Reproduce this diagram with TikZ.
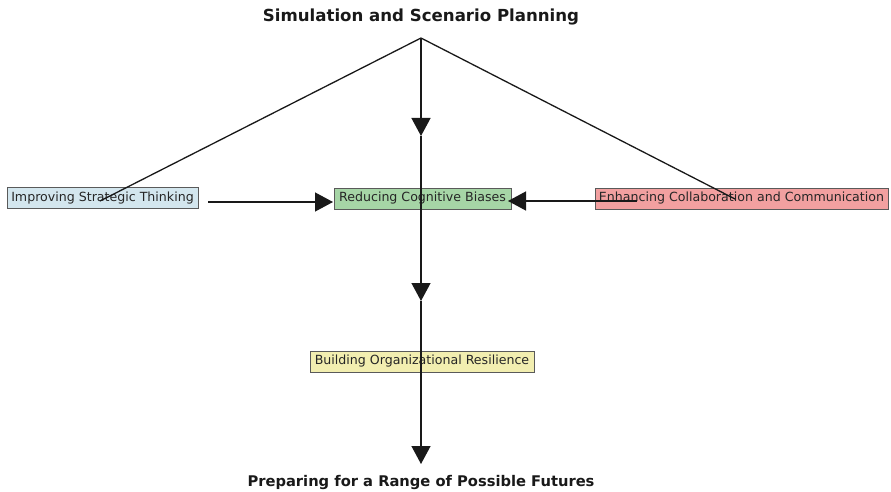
\documentclass[tikz,border=0pt]{standalone}
\usepackage{fontspec}
\setmainfont{DejaVu Sans}
\usetikzlibrary{arrows.meta}
\definecolor{cblue}{HTML}{D3E6EE}
\definecolor{cgreen}{HTML}{A6D5A6}
\definecolor{cred}{HTML}{F2A0A0}
\definecolor{cyellow}{HTML}{F2EEB0}
\definecolor{cborder}{HTML}{5A5A5A}
\tikzset{
  box/.style={draw=cborder, line width=0.8pt, inner sep=0pt, minimum height=21pt,
    font=\fontsize{12.6}{14}\selectfont, text=black!85},
  heading/.style={font=\bfseries, text=black!90},
  conn/.style={line width=1.3pt, black!90},
  arr/.style={conn, -{Triangle[length=18pt,width=19pt]}},
}
\begin{document}
\begin{tikzpicture}[x=1pt,y=-1pt]
\useasboundingbox (0,0) rectangle (891,492);
% boxes
\node[box, fill=cblue, minimum width=191pt] (ist) at (102.5,198) {Improving Strategic Thinking};
\node[box, fill=cgreen, minimum width=177pt] (rcb) at (422.5,198.5) {Reducing Cognitive Biases};
\node[box, fill=cred, minimum width=293pt] (ecc) at (741.5,198.5) {Enhancing Collaboration and Communication};
\node[box, fill=cyellow, minimum width=224pt] (bor) at (422,361.5) {Building Organizational Resilience};
% headings
\node[heading, font=\fontsize{16.6}{19}\selectfont\bfseries] (sim) at (421,17) {Simulation and Scenario Planning};
\node[heading, font=\fontsize{14.7}{17}\selectfont\bfseries] (pre) at (421,482) {Preparing for a Range of Possible Futures};
% coordinates
\coordinate (apex) at (421,38);
\coordinate (lend) at (100,201);
\coordinate (rend) at (735,199);
\coordinate (t1) at (421,136);
\coordinate (t2) at (421,301);
\coordinate (t3) at (421,464);
\coordinate (hl0) at (208,202);
\coordinate (hl1) at (333,202);
\coordinate (hr0) at (637,201);
\coordinate (hr1) at (508,201);
% connectors
\draw[conn] (apex) -- (lend);
\draw[conn] (apex) -- (rend);
\draw[arr] (apex) -- (t1);
\draw[arr] (t1) -- (t2);
\draw[arr] (t2) -- (t3);
\draw[arr] (hl0) -- (hl1);
\draw[arr] (hr0) -- (hr1);
\end{tikzpicture}
\end{document}
